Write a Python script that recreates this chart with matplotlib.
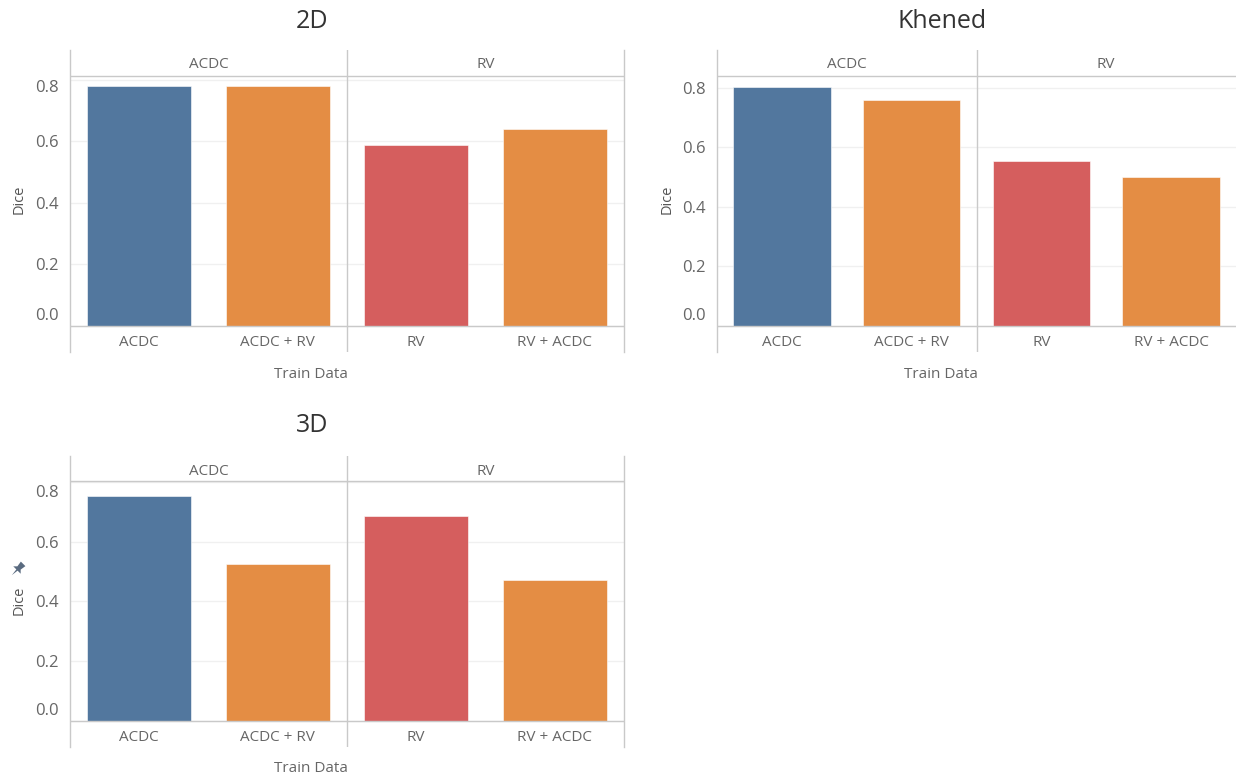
import matplotlib
matplotlib.use("Agg")
import matplotlib.pyplot as plt
from matplotlib.patches import PathPatch
from matplotlib.path import Path
from matplotlib.transforms import Affine2D, ScaledTranslation, blended_transform_factory

plt.rcParams['font.family'] = ['Open Sans', 'DejaVu Sans']

W, H, DPI = 1236, 778, 100

categories = ["ACDC", "ACDC + RV", "RV", "RV + ACDC"]
groups = ["ACDC", "RV"]
dice_2d = [0.781, 0.781, 0.588, 0.640]
dice_khened = [0.803, 0.76, 0.553, 0.5]
dice_3d = [0.754, 0.524, 0.686, 0.472]
y_ticks = [0.0, 0.2, 0.4, 0.6, 0.8]
titles = ["2D", "Khened", "3D"]
x_title = "Train Data"
y_title = "Dice"

bar_colors = ["#52779E", "#E48D44", "#D55E5E", "#E48D44"]
LINE = "#C9C9C9"
GRID = "#F0F0F0"
TEXT = "#666666"

fig = plt.figure(figsize=(W / DPI, H / DPI), dpi=DPI, facecolor="white")


def panel(values, title, left, right, top, header, base, bottom, scale, label_shift,
          title_x, title_y, xlabel_x, dice_x, dice_y, right_line):
    ax = fig.add_axes([left / W, 1 - bottom / H, (right - left) / W, (bottom - top) / H])
    ax.set_xlim(-0.5, 3.5)
    ax.set_ylim(-(bottom - base) / scale, (base - top) / scale)
    ax.patch.set_alpha(0)
    for s in ("top", "right", "bottom"):
        ax.spines[s].set_visible(False)
    ax.spines["left"].set_color(LINE)
    ax.spines["left"].set_linewidth(1.0)

    ax.set_yticks(y_ticks)
    ax.set_yticklabels([f"{t:.1f}" for t in y_ticks], fontsize=12, color=TEXT)
    ax.tick_params(axis="y", length=0, pad=8)
    for lab, dy in zip(ax.get_yticklabels(), label_shift):
        lab.set_transform(lab.get_transform() + ScaledTranslation(0, dy / DPI, fig.dpi_scale_trans))
    ax.grid(axis="y", color=GRID, linewidth=1.0, zorder=0)
    ax.set_axisbelow(True)

    x = range(len(categories))
    ax.bar(x, values, width=0.752, color=bar_colors, edgecolor="white", linewidth=0.4, zorder=2)

    ax.axhline(0, color=LINE, linewidth=1.0, zorder=3)
    ax.axhline((base - header) / scale, color=LINE, linewidth=1.0, zorder=3)
    ax.axvline(1.5, color=LINE, linewidth=1.0, zorder=3)
    if right_line:
        ax.axvline(3.5, color=LINE, linewidth=1.0, zorder=3, clip_on=False)

    ax.set_xticks(list(x))
    ax.set_xticklabels(categories, fontsize=11, color=TEXT)
    ax.tick_params(axis="x", length=0, pad=0)
    for lab in ax.get_xticklabels():
        lab.set_transform(ax.get_xaxis_transform() +
                          ScaledTranslation(0, (bottom - base - 16.5) / DPI, fig.dpi_scale_trans))
        lab.set_verticalalignment("center")

    trans = blended_transform_factory(ax.transData, fig.transFigure)
    header_y = 1 - (top + 15) / H
    ax.text(0.5, header_y, groups[0], transform=trans, ha="center", va="center",
            fontsize=11, color=TEXT)
    ax.text(2.5, header_y, groups[1], transform=trans, ha="center", va="center",
            fontsize=11, color=TEXT)

    fig.text(xlabel_x / W, 1 - (bottom + 22) / H, x_title,
             ha="center", va="center", fontsize=11, color=TEXT)
    fig.text(dice_x / W, 1 - dice_y / H, y_title, ha="center", va="center",
             rotation=90, fontsize=10.5, color="#555555")
    fig.text(title_x / W, 1 - title_y / H, title, ha="center", va="center",
             fontsize=18, color="#333333")


panel(dice_2d, titles[0], 70, 624, 50, 75.5, 325.5, 352, 307, [11, 0, 0, 0, -6], 312, 21, 311, 19, 199, True)
panel(dice_khened, titles[1], 717, 1236, 50, 76, 325.5, 352, 297, [11, 0, 0, 0, 0], 942, 21, 941, 667, 199, False)
panel(dice_3d, titles[2], 70, 624, 456, 481, 721, 747, 299, [12, 0, 0, 0, -9], 312, 426, 311, 19, 600, True)

# small "pinned" icon beside the 3D axis title
pin = Path(
    [(-2.2, 5), (2.2, 5), (1.6, 1), (3.6, -1), (0.6, -1), (0, -6), (-0.6, -1), (-3.6, -1), (-1.6, 1), (-2.2, 5)],
    [Path.MOVETO] + [Path.LINETO] * 8 + [Path.CLOSEPOLY],
)
fig.add_artist(PathPatch(
    pin,
    facecolor="#5A6B80",
    edgecolor="none",
    transform=Affine2D().rotate_deg(-45).scale(1.45).translate(18, H - 569),
))

fig.savefig("out.png", dpi=DPI)
